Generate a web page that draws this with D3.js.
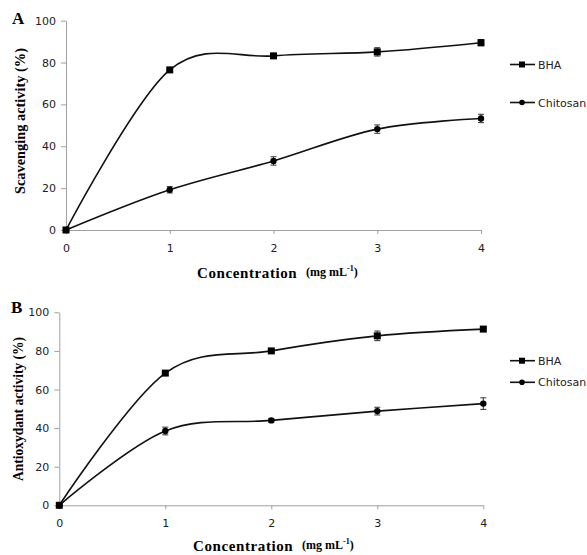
<!DOCTYPE html>
<html lang="en">
<head>
<meta charset="UTF-8">
<script src="https://cdn.jsdelivr.net/npm/d3@7"></script>
<style>
  body { margin: 0; background: #fff; }
</style>
</head>
<body>
<div id="viz"></div>
<script>
// concentrations (mg/mL)
const concentrations = [0, 1, 2, 3, 4]
const yTicks = [0, 20, 40, 60, 80, 100]

// panel A - scavenging activity (%)
const scavBHA = [0, 76.5, 83.2, 85.1, 89.5]
const scavBHAErr = [0, 1, 1, 2, 1.5]
const scavChitosan = [0, 19.2, 33, 48.2, 53.3]
const scavChitosanErr = [0, 1.5, 2, 2, 2]

// panel B - antioxydant activity (%)
const antiBHA = [0, 68.5, 80, 87.8, 91.3]
const antiBHAErr = [0, 1, 0.8, 2.5, 1]
const antiChitosan = [0, 38.5, 44, 48.8, 52.7]
const antiChitosanErr = [0, 2, 1, 2, 3]

const seriesNames = ["BHA", "Chitosan"]

const svg = d3.select("#viz").append("svg")
    .attr("width", 587)
    .attr("height", 555)

function drawPanel(opt) {
    const x = d3.scaleLinear().domain([0, 4]).range([opt.left, opt.right])
    const y = d3.scaleLinear().domain([0, 100]).range([opt.bottom, opt.top])

    const g = svg.append("g")

    // y axis
    const ya = g.append("g")
        .attr("transform", `translate(${opt.left},0)`)
        .call(d3.axisLeft(y).tickValues(yTicks).tickFormat(d3.format("d"))
            .tickSize(5).tickPadding(5).tickSizeOuter(0))
    // x axis
    const xa = g.append("g")
        .attr("transform", `translate(0,${opt.bottom})`)
        .call(d3.axisBottom(x).tickValues(concentrations).tickFormat(d3.format("d"))
            .tickSize(4).tickPadding(10).tickSizeOuter(0))

    for (const a of [ya, xa]) {
        a.selectAll("path, line").attr("stroke", "#a0a0a0").attr("stroke-width", 1)
        a.selectAll("text")
            .attr("fill", "#222")
            .style("font-family", "DejaVu Sans, Verdana, sans-serif")
            .style("font-size", "11px")
    }

    const line = d3.line()
        .x((d, i) => x(concentrations[i]))
        .y(d => y(d))
        .curve(d3.curveCardinal)

    opt.series.forEach((s, k) => {
        g.append("path")
            .datum(s.values)
            .attr("fill", "none")
            .attr("stroke", "#111")
            .attr("stroke-width", 1.6)
            .attr("d", line)

        // error bars
        s.values.forEach((v, i) => {
            const e = s.err[i]
            if (!e) return
            const cx = x(concentrations[i])
            g.append("line").attr("x1", cx).attr("x2", cx)
                .attr("y1", y(v - e)).attr("y2", y(v + e))
                .attr("stroke", "#333").attr("stroke-width", 1)
            for (const yy of [v - e, v + e]) {
                g.append("line").attr("x1", cx - 3).attr("x2", cx + 3)
                    .attr("y1", y(yy)).attr("y2", y(yy))
                    .attr("stroke", "#333").attr("stroke-width", 1)
            }
        })

        // markers
        s.values.forEach((v, i) => {
            const cx = x(concentrations[i]), cy = y(v)
            if (k === 0) {
                g.append("rect").attr("x", cx - 3.5).attr("y", cy - 3.5)
                    .attr("width", 7).attr("height", 7).attr("fill", "#000")
            } else {
                g.append("circle").attr("cx", cx).attr("cy", cy).attr("r", 3.2).attr("fill", "#000")
            }
        })

        // legend
        const ly = opt.legendY[k]
        g.append("line").attr("x1", 510).attr("x2", 535).attr("y1", ly).attr("y2", ly)
            .attr("stroke", "#111").attr("stroke-width", 1.6)
        if (k === 0) {
            g.append("rect").attr("x", 519).attr("y", ly - 3).attr("width", 6).attr("height", 6).attr("fill", "#000")
        } else {
            g.append("circle").attr("cx", 522).attr("cy", ly).attr("r", 2.8).attr("fill", "#000")
        }
        g.append("text").attr("x", 538).attr("y", ly + 4)
            .style("font-family", "DejaVu Sans, Verdana, sans-serif")
            .style("font-size", "11px")
            .attr("fill", "#222")
            .text(seriesNames[k])
    })

    // panel letter
    g.append("text").attr("x", opt.letterX).attr("y", opt.letterY)
        .style("font-family", "Liberation Serif, serif")
        .style("font-weight", "bold")
        .style("font-size", "17px")
        .text(opt.letter)

    // y title
    g.append("text")
        .attr("transform", `translate(${opt.yTitleX},${opt.yTitleY}) rotate(-90)`)
        .attr("text-anchor", "middle")
        .attr("textLength", opt.yTitleLen)
        .attr("lengthAdjust", "spacingAndGlyphs")
        .style("font-family", "Liberation Serif, serif")
        .style("font-weight", "bold")
        .style("font-size", "15px")
        .text(opt.yTitle)

    // x title
    g.append("text").attr("x", opt.xTitleX).attr("y", opt.xTitleY)
        .style("font-family", "Liberation Serif, serif")
        .style("font-weight", "bold")
        .style("font-size", "15px")
        .style("letter-spacing", "0.6px")
        .text("Concentration")
    const unit = g.append("text").attr("x", opt.xTitleX + 109).attr("y", opt.xTitleY - 2)
        .style("font-family", "Liberation Serif, serif")
        .style("font-weight", "bold")
        .style("font-size", "12px")
    unit.append("tspan").text("(mg mL")
    unit.append("tspan").attr("dy", -5).style("font-size", "8px").text("-1")
    unit.append("tspan").attr("dy", 5).text(")")
}

drawPanel({
    left: 66, right: 481, top: 20.7, bottom: 230,
    series: [
        { values: scavBHA, err: scavBHAErr },
        { values: scavChitosan, err: scavChitosanErr }
    ],
    legendY: [64.5, 102.5],
    letter: "A", letterX: 12, letterY: 24,
    yTitle: "Scavenging activity (%)", yTitleX: 25, yTitleY: 121, yTitleLen: 146,
    xTitleX: 197, xTitleY: 278
})

drawPanel({
    left: 59.3, right: 483.3, top: 312.3, bottom: 505.3,
    series: [
        { values: antiBHA, err: antiBHAErr },
        { values: antiChitosan, err: antiChitosanErr }
    ],
    legendY: [360.7, 382.3],
    letter: "B", letterX: 11, letterY: 313,
    yTitle: "Antioxydant activity (%)", yTitleX: 23, yTitleY: 409, yTitleLen: 144,
    xTitleX: 193, xTitleY: 551
})
</script>
</body>
</html>
